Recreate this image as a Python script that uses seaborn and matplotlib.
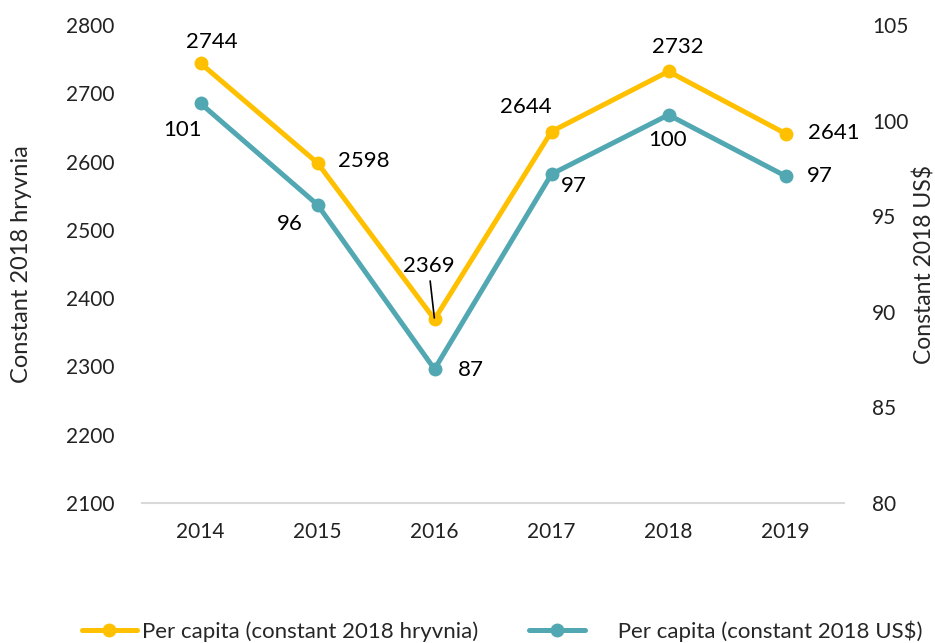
import matplotlib
matplotlib.use('Agg')
import matplotlib.pyplot as plt
import seaborn as sns
import numpy as np
import pandas as pd
from matplotlib.lines import Line2D

# data
years = ['2014', '2015', '2016', '2017', '2018', '2019']
uah_per_capita = [2744, 2598, 2369, 2644, 2732, 2641]
usd_per_capita = [100.9, 95.6, 87.0, 97.2, 100.3, 97.1]
uah_label = 'Per capita (constant 2018 hryvnia)'
usd_label = 'Per capita (constant 2018 US$)'

YELLOW = '#FFC000'
TEAL = '#52A8B2'

# label offsets in pixels (dx, dy) from each point
uah_offsets = [(11, 21), (46, 2), (-6, 53), (-26, 25), (9, 24), (48, 1)]
usd_offsets = [(-18, -27), (-28, -19), (36, -1), (22, -12), (-1, -25), (34, 0)]

sns.set_style('white')
plt.rcParams['font.family'] = ['Lato', 'DejaVu Sans']

df = pd.DataFrame({'x': np.arange(len(years)), 'uah': uah_per_capita, 'usd': usd_per_capita})

fig = plt.figure(figsize=(9.35, 6.43), dpi=100)
ax = fig.add_axes([142 / 935, 1 - 503 / 643, 702 / 935, 478 / 643])
ax2 = ax.twinx()

sns.lineplot(data=df, x='x', y='uah', ax=ax, color=YELLOW, linewidth=3.6,
             marker='o', markersize=10, markeredgewidth=0, zorder=3)
sns.lineplot(data=df, x='x', y='usd', ax=ax2, color=TEAL, linewidth=3.6,
             marker='o', markersize=10, markeredgewidth=0, zorder=3)

ax.set_xlim(-0.5, len(years) - 0.5)
ax.set_ylim(2100, 2800)
ax.set_yticks(range(2100, 2801, 100))
ax2.set_ylim(80, 105)
ax2.set_yticks(range(80, 106, 5))
ax.set_xticks(df['x'])
ax.set_xticklabels(years)

ax.set_xlabel('')
ax.set_ylabel('Constant 2018 hryvnia', fontsize=17)
ax2.set_ylabel('Constant 2018 US$', fontsize=16.5)
ax.yaxis.set_label_coords(-110 / 702, 0.5)
ax2.yaxis.set_label_coords(1 + 70 / 702, 0.5)

for a in (ax, ax2):
    for s in a.spines.values():
        s.set_visible(False)
    a.tick_params(length=0, labelsize=15, colors='#222222')
ax.tick_params(axis='x', pad=14)
ax.tick_params(axis='y', pad=20)
ax2.tick_params(axis='y', pad=20)
ax.spines['bottom'].set_visible(True)
ax.spines['bottom'].set_color('#D9D9D9')
ax.spines['bottom'].set_linewidth(1.5)

for i, (v, off) in enumerate(zip(uah_per_capita, uah_offsets)):
    kw = {}
    if i == 2:
        kw['arrowprops'] = dict(arrowstyle='-', color='black', lw=1.2, shrinkA=1, shrinkB=1)
    ax.annotate(f'{v}', (i, v), xytext=off, textcoords='offset pixels',
                ha='center', va='center', fontsize=16, color='black', **kw)
for i, (v, off) in enumerate(zip(usd_per_capita, usd_offsets)):
    ax2.annotate(f'{v:.0f}', (i, v), xytext=off, textcoords='offset pixels',
                 ha='center', va='center', fontsize=16, color='black')

handles = [
    Line2D([], [], color=YELLOW, lw=3.6, marker='o', markersize=10, markeredgewidth=0),
    Line2D([], [], color=TEAL, lw=3.6, marker='o', markersize=10, markeredgewidth=0),
]
fig.legend(handles, [uah_label, '     ' + usd_label], loc='center', ncol=2,
           bbox_to_anchor=(0.537, 0.018), frameon=False, fontsize=16,
           handlelength=2.5, handletextpad=0.2, columnspacing=2.3)

fig.savefig('out.png', dpi=100)
plt.close(fig)
